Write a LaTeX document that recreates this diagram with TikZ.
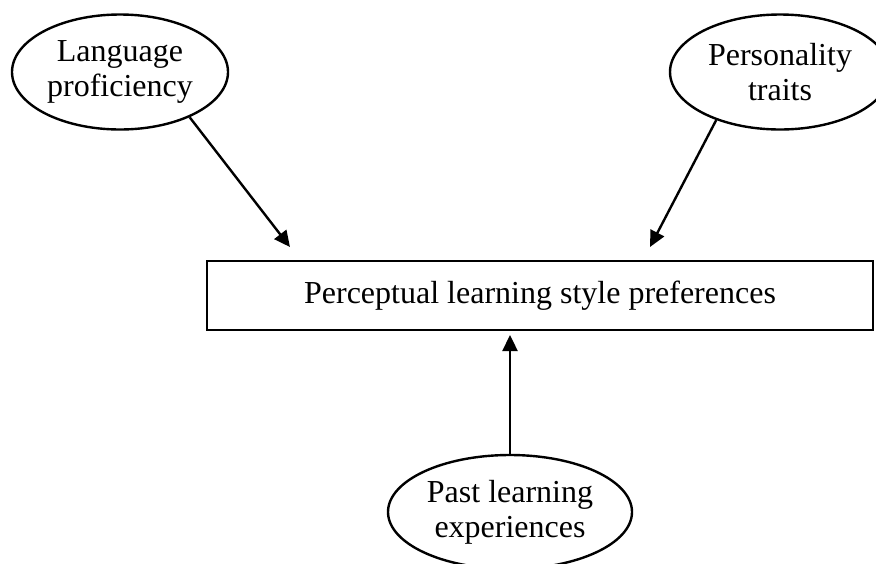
\documentclass[tikz,border=0pt]{standalone}
\usepackage{fontspec}
\setmainfont{Liberation Serif}
\usetikzlibrary{shapes.geometric,arrows.meta}

\begin{document}
\begin{tikzpicture}
    [
        x=0.5pt, y=-0.5pt,
        factor/.style={ellipse, draw, line width=1.2pt, inner sep=0pt, align=center,
            font=\fontsize{16}{17.5}\selectfont},
        outcome/.style={rectangle, draw, line width=1.3pt, minimum width=333pt,
            minimum height=34.5pt, font=\fontsize{16}{17.5}\selectfont},
        link/.style={line width=1.2pt, -{Triangle[length=8pt, width=7.5pt]}},
    ]
    
    \useasboundingbox (0, 0) rectangle (876, 563);
    \clip (0, 0) rectangle (876, 563);
    
    \node [outcome] (prefs) at (540, 295.5) {Perceptual learning style preferences};
    
    \node [factor, minimum width=108pt, minimum height=57.5pt] (lang) at (120, 72)
        {Language\\proficiency};
    \node [factor, minimum width=110pt, minimum height=57.5pt] (pers) at (780, 72)
        {Personality\\traits};
    \node [factor, minimum width=122pt, minimum height=57pt] (past) at (510, 512)
        {Past learning\\experiences};
    
    \coordinate (tipL) at (290, 247);
    \coordinate (tipP) at (650, 247);
    \coordinate (tipB) at (510, 335);
    
    \draw [link] (lang.-33) -- (tipL);
    \draw [link] (pers.-143) -- (tipP);
    \draw [link] (past) -- (tipB);
    
\end{tikzpicture}
\end{document}
